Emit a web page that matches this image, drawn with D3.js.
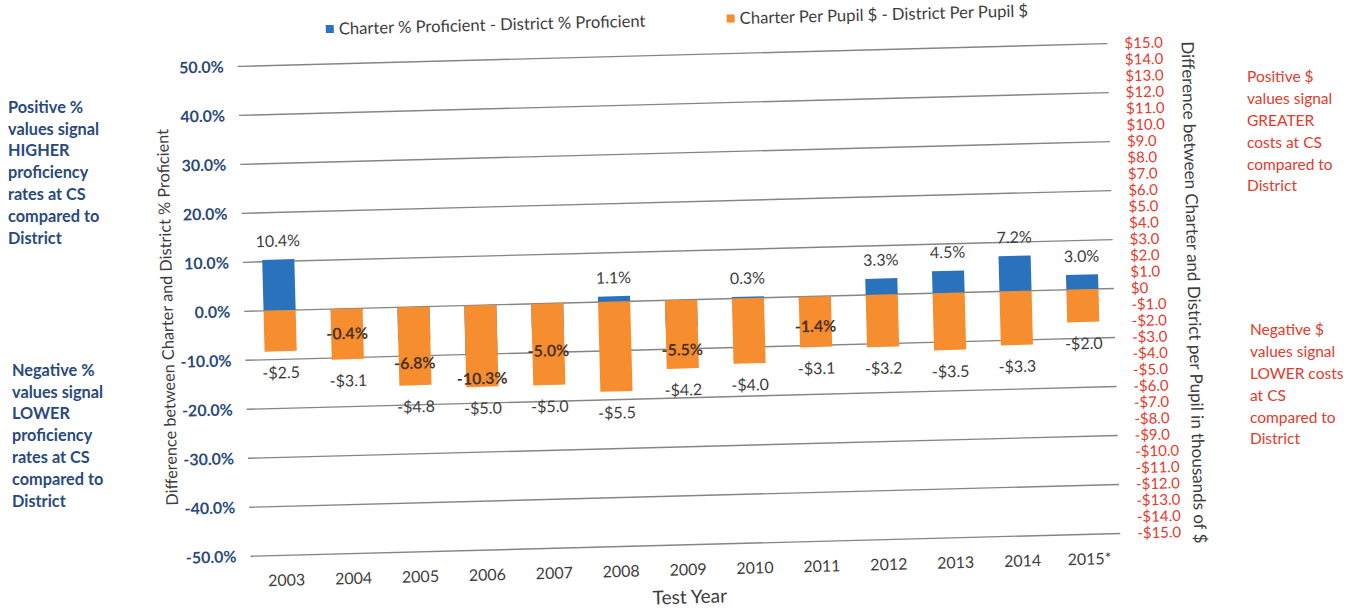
<!DOCTYPE html>
<html>
<head>
<meta charset="utf-8">
<script src="https://cdn.jsdelivr.net/npm/d3@7"></script>
<style>
    body { margin: 0; background: #fff; }
    svg { font-family: Lato, "Open Sans", sans-serif; }
</style>
</head>
<body>
<div id="chart"></div>
<script>
// Data
var years = ["2003", "2004", "2005", "2006", "2007", "2008", "2009", "2010", "2011", "2012", "2013", "2014", "2015*"];
var pctDiff = [10.4, -0.4, -6.8, -10.3, -5.0, 1.1, -5.5, 0.3, -1.4, 3.3, 4.5, 7.2, 3.0];
var dollarDiff = [-2.5, -3.1, -4.8, -5.0, -5.0, -5.5, -4.2, -4.0, -3.1, -3.2, -3.5, -3.3, -2.0];

var pctTicks = [-50, -40, -30, -20, -10, 0, 10, 20, 30, 40, 50];
var dollarTicks = [-15, -14, -13, -12, -11, -10, -9, -8, -7, -6, -5, -4, -3, -2, -1, 0,
    1, 2, 3, 4, 5, 6, 7, 8, 9, 10, 11, 12, 13, 14, 15];

var legendLabels = ["Charter % Proficient - District % Proficient", "Charter Per Pupil $ - District Per Pupil $"];
var leftTitle = "Difference between Charter and District % Proficient";
var rightTitle = "Difference between Charter and District per Pupil in thousands of $";
var xTitle = "Test Year";

var notePctUp = ["Positive %", "values signal", "HIGHER", "proficiency", "rates at CS", "compared to", "District"];
var notePctDown = ["Negative %", "values signal", "LOWER", "proficiency", "rates at CS", "compared to", "District"];
var noteCostUp = ["Positive $", "values signal", "GREATER", "costs at CS", "compared to", "District"];
var noteCostDown = ["Negative $", "values signal", "LOWER costs", "at CS", "compared to", "District"];

var blue = "#2b72bd";
var orange = "#f68d2e";
var navy = "#2a4a7c";
var red = "#e23a2c";
var ink = "#3d3d3d";

var svgWidth = 1354;
var svgHeight = 610;

var plot = { left: 246, right: 1116, top: 55, bottom: 545 };

var svg = d3.select("#chart")
    .append("svg")
    .attr("width", svgWidth)
    .attr("height", svgHeight);

// the scanned chart sits slightly tilted
var chartGroup = svg.append("g")
    .attr("transform", "rotate(-1.5, 677, 300)");

// Scales
var xScale = d3.scaleBand()
    .domain(years)
    .range([plot.left, plot.right])
    .paddingInner(0.52)
    .paddingOuter(0.26);

var yPct = d3.scaleLinear()
    .domain([-50, 50])
    .range([plot.bottom, plot.top]);

var yDollar = d3.scaleLinear()
    .domain([-15, 15])
    .range([plot.bottom, plot.top]);

// Gridlines
chartGroup.append("g").selectAll("line")
    .data(pctTicks)
    .enter()
    .append("line")
    .attr("x1", plot.left - 2)
    .attr("x2", plot.right - 2)
    .attr("y1", d => yPct(d))
    .attr("y2", d => yPct(d))
    .attr("stroke", "#858585")
    .attr("stroke-width", 1.4);

var rows = years.map((y, i) => ({ year: y, pct: pctDiff[i], dollar: dollarDiff[i] }));

// Bars: blue first, orange drawn over it
chartGroup.append("g").selectAll("rect")
    .data(rows)
    .enter()
    .append("rect")
    .attr("x", d => xScale(d.year))
    .attr("width", xScale.bandwidth())
    .attr("y", d => Math.min(yPct(d.pct), yPct(0)))
    .attr("height", d => Math.abs(yPct(d.pct) - yPct(0)))
    .attr("fill", blue);

chartGroup.append("g").selectAll("rect")
    .data(rows)
    .enter()
    .append("rect")
    .attr("x", d => xScale(d.year))
    .attr("width", xScale.bandwidth())
    .attr("y", d => Math.min(yDollar(d.dollar), yDollar(0)))
    .attr("height", d => Math.abs(yDollar(d.dollar) - yDollar(0)))
    .attr("fill", orange);

// Data labels
chartGroup.append("g").selectAll("text")
    .data(rows)
    .enter()
    .append("text")
    .attr("x", d => xScale(d.year) + xScale.bandwidth() / 2)
    .attr("y", d => d.pct >= 0 ? yPct(d.pct) - 18.5 : yPct(d.pct) + 23)
    .attr("dy", "0.35em")
    .attr("text-anchor", "middle")
    .attr("font-size", 16)
    .attr("fill", d => d.pct >= 0 ? ink : "#4a3222")
    .attr("font-weight", d => d.pct >= 0 ? 400 : 700)
    .text(d => d.pct.toFixed(1) + "%");

chartGroup.append("g").selectAll("text")
    .data(rows)
    .enter()
    .append("text")
    .attr("x", d => xScale(d.year) + xScale.bandwidth() / 2)
    .attr("y", d => yDollar(d.dollar) + 21.5)
    .attr("dy", "0.35em")
    .attr("text-anchor", "middle")
    .attr("font-size", 16)
    .attr("fill", ink)
    .text(d => (d.dollar < 0 ? "-" : "") + "$" + Math.abs(d.dollar).toFixed(1));

// Axes
var leftAxis = d3.axisLeft(yPct)
    .tickValues(pctTicks)
    .tickSize(0)
    .tickPadding(16)
    .tickFormat(d => d.toFixed(1) + "%");

var rightAxis = d3.axisRight(yDollar)
    .tickValues(dollarTicks)
    .tickSize(0)
    .tickPadding(15)
    .tickFormat(d => d === 0 ? "$0" : (d < 0 ? "-" : "") + "$" + Math.abs(d).toFixed(1));

var bottomAxis = d3.axisBottom(xScale)
    .tickSize(0)
    .tickPadding(19);

var gLeft = chartGroup.append("g")
    .attr("transform", `translate(${plot.left}, 0)`)
    .call(leftAxis);
gLeft.select(".domain").remove();
gLeft.selectAll("text")
    .attr("font-family", "Lato, sans-serif")
    .attr("font-size", 16)
    .attr("font-weight", 700)
    .attr("fill", navy);

var gRight = chartGroup.append("g")
    .attr("transform", `translate(${plot.right}, 0)`)
    .call(rightAxis);
gRight.select(".domain").remove();
gRight.selectAll("text")
    .attr("font-family", "Lato, sans-serif")
    .attr("font-size", 15)
    .attr("fill", red);

var gBottom = chartGroup.append("g")
    .attr("transform", `translate(0, ${plot.bottom})`)
    .call(bottomAxis);
gBottom.select(".domain").remove();
gBottom.selectAll("text")
    .attr("font-family", "Lato, sans-serif")
    .attr("font-size", 16)
    .attr("fill", ink);

// Axis titles
chartGroup.append("text")
    .attr("transform", "translate(167, 304) rotate(-90)")
    .attr("text-anchor", "middle")
    .attr("dy", "0.35em")
    .attr("font-size", 16.3)
    .attr("fill", ink)
    .text(leftTitle);

chartGroup.append("text")
    .attr("transform", "translate(1194, 306) rotate(90)")
    .attr("text-anchor", "middle")
    .attr("dy", "0.35em")
    .attr("font-size", 17)
    .attr("fill", ink)
    .text(rightTitle);

chartGroup.append("text")
    .attr("x", 682)
    .attr("y", 597)
    .attr("dy", "0.35em")
    .attr("text-anchor", "middle")
    .attr("font-size", 19)
    .attr("fill", ink)
    .text(xTitle);

// Legend
var legendPos = [337, 738];
var legendColors = [blue, orange];
var legend = chartGroup.append("g").selectAll("g")
    .data(legendLabels)
    .enter()
    .append("g")
    .attr("transform", (d, i) => `translate(${legendPos[i]}, 20)`);

legend.append("rect")
    .attr("x", -4)
    .attr("y", -4)
    .attr("width", 8)
    .attr("height", 8)
    .attr("fill", (d, i) => legendColors[i]);

legend.append("text")
    .attr("x", 9)
    .attr("dy", "0.35em")
    .attr("font-size", 16.6)
    .attr("fill", ink)
    .text(d => d);

// Side notes (outside the tilted chart)
function note(lines, x, y, color, weight, size) {
    svg.append("g").selectAll("text")
        .data(lines)
        .enter()
        .append("text")
        .attr("x", x)
        .attr("y", (d, i) => y + i * 21.8)
        .attr("dy", "0.35em")
        .attr("font-size", size)
        .attr("font-weight", weight)
        .attr("fill", color)
        .text(d => d);
}

note(notePctUp, 8, 107, navy, 700, 16.3);
note(notePctDown, 12, 370, navy, 700, 16.3);
note(noteCostUp, 1247, 77, red, 400, 15.5);
note(noteCostDown, 1250, 330, red, 400, 15.5);
</script>
</body>
</html>
